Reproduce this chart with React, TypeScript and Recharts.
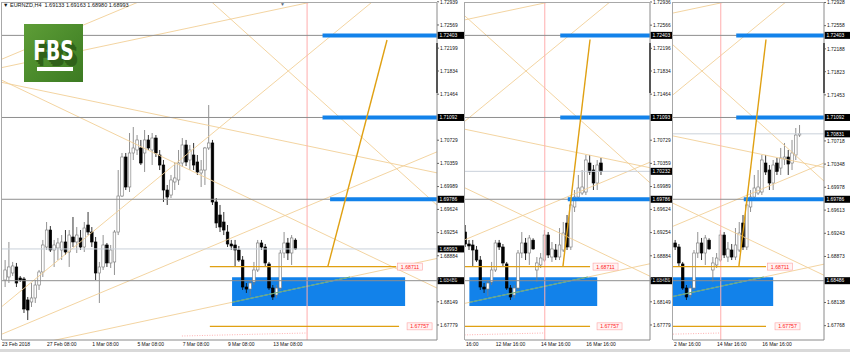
import React from 'react';
import { ComposedChart, Bar, XAxis, YAxis, ReferenceLine, ReferenceArea } from 'recharts';

const FONT = "'Liberation Sans', Arial, sans-serif";

// ---- EURNZD H4 candles (index 0 = first bar, 23 Feb 2018) ----
const opens = [
  1.68497, 1.68545, 1.68609, 1.68705, 1.68529, 1.68513, 1.68178, 1.68146, 1.6821, 1.68417,
  1.68625, 1.69024, 1.69295, 1.68976, 1.69008, 1.68976, 1.69104, 1.68944, 1.69184, 1.69104,
  1.69168, 1.69024, 1.69375, 1.69263, 1.69104, 1.68609, 1.68705, 1.69056, 1.68769, 1.68785,
  1.69263, 1.69838, 1.70461, 1.69982, 1.70525, 1.70573, 1.70605, 1.70525, 1.70733, 1.70573,
  1.70764, 1.70493, 1.70333, 1.69934, 1.69854, 1.70062, 1.70094, 1.70365, 1.70653, 1.70413,
  1.70493, 1.70381, 1.70206, 1.70253, 1.70605, 1.70685, 1.69743, 1.69535, 1.69423, 1.69263,
  1.69072, 1.69056, 1.68976, 1.68816, 1.68385, 1.68353, 1.68465, 1.68657, 1.69088, 1.69024,
  1.68753, 1.68369, 1.68258, 1.68369, 1.68928, 1.69088, 1.68928, 1.69133, 1.68657, 1.68737,
  1.68816, 1.69215, 1.68864, 1.68976, 1.68864, 1.68976, 1.69407, 1.69024, 1.69663, 1.69822,
  1.69886, 1.69902, 1.70365, 1.70253, 1.70046, 1.70365, 1.70285, 1.70429, 1.70461, 1.70365,
  1.70493, 1.70812,
];
const highs = [
  1.68816, 1.69104, 1.68785, 1.68769, 1.68561, 1.68545, 1.68226, 1.68449, 1.68497, 1.68657,
  1.69136, 1.69423, 1.69359, 1.69136, 1.69168, 1.69215, 1.69295, 1.69295, 1.69503, 1.69343,
  1.69295, 1.69423, 1.69583, 1.69343, 1.69184, 1.68785, 1.69215, 1.69088, 1.69056, 1.69295,
  1.70253, 1.70525, 1.70525, 1.70844, 1.7094, 1.70812, 1.70733, 1.70892, 1.70812, 1.70844,
  1.70812, 1.70573, 1.70413, 1.70014, 1.70174, 1.70381, 1.70573, 1.70764, 1.70733, 1.70653,
  1.70685, 1.70493, 1.70413, 1.70621, 1.71291, 1.70733, 1.69806, 1.69695, 1.69583, 1.69375,
  1.69136, 1.69136, 1.6904, 1.6888, 1.68449, 1.68497, 1.68785, 1.69136, 1.69136, 1.69072,
  1.68785, 1.68417, 1.68417, 1.68976, 1.69263, 1.69168, 1.69215, 1.69163, 1.68864, 1.68928,
  1.69295, 1.69263, 1.69104, 1.69072, 1.69327, 1.69423, 1.69535, 1.69775, 1.69934, 1.70174,
  1.70253, 1.70493, 1.70493, 1.70333, 1.70413, 1.70445, 1.70605, 1.70685, 1.70573, 1.70733,
  1.70924, 1.70972,
];
const lows = [
  1.68385, 1.68449, 1.68561, 1.68385, 1.68465, 1.6797, 1.67858, 1.68066, 1.6813, 1.68338,
  1.68545, 1.68976, 1.68944, 1.68705, 1.68816, 1.68816, 1.68896, 1.68705, 1.69024, 1.68928,
  1.68976, 1.68944, 1.69215, 1.69024, 1.68497, 1.6813, 1.68657, 1.68705, 1.68689, 1.68577,
  1.69215, 1.69822, 1.69934, 1.69902, 1.70413, 1.70493, 1.70333, 1.70222, 1.70573, 1.70333,
  1.70461, 1.70253, 1.69743, 1.69695, 1.69806, 1.69934, 1.70014, 1.70301, 1.70317, 1.70253,
  1.70253, 1.70174, 1.69982, 1.70014, 1.70573, 1.69695, 1.69327, 1.69263, 1.69215, 1.69024,
  1.68976, 1.68705, 1.68785, 1.68338, 1.6829, 1.68242, 1.68417, 1.68625, 1.68976, 1.68721,
  1.68338, 1.68178, 1.6821, 1.68338, 1.68848, 1.68816, 1.68737, 1.6898, 1.68465, 1.68689,
  1.68785, 1.68848, 1.68785, 1.68816, 1.68816, 1.68944, 1.68976, 1.68976, 1.69583, 1.69775,
  1.69854, 1.69854, 1.70174, 1.69934, 1.69934, 1.70174, 1.70174, 1.70333, 1.70174, 1.70253,
  1.70413, 1.7078,
];
const closes = [
  1.68657, 1.68705, 1.68721, 1.68449, 1.68497, 1.68034, 1.68018, 1.6821, 1.68417, 1.68625,
  1.69056, 1.69295, 1.68976, 1.69056, 1.69088, 1.69104, 1.68944, 1.69215, 1.69104, 1.69215,
  1.69024, 1.69327, 1.69263, 1.69104, 1.68609, 1.68705, 1.69056, 1.68769, 1.68976, 1.69263,
  1.69838, 1.70461, 1.69982, 1.70525, 1.70605, 1.70733, 1.70365, 1.70733, 1.70605, 1.70764,
  1.70525, 1.70333, 1.69934, 1.69822, 1.70094, 1.70126, 1.70365, 1.70653, 1.70381, 1.70573,
  1.70333, 1.70222, 1.70253, 1.70605, 1.70685, 1.69743, 1.69407, 1.69343, 1.69295, 1.69072,
  1.6904, 1.68976, 1.68816, 1.68385, 1.68353, 1.68449, 1.68657, 1.69088, 1.69024, 1.68769,
  1.68369, 1.68226, 1.68369, 1.68928, 1.69088, 1.68928, 1.69168, 1.68993, 1.68769, 1.68848,
  1.69215, 1.68896, 1.68992, 1.68864, 1.69056, 1.69247, 1.69024, 1.69695, 1.69822, 1.69966,
  1.69982, 1.70413, 1.70222, 1.70046, 1.70333, 1.70232, 1.70445, 1.70461, 1.70349, 1.70525,
  1.70812, 1.70831,
];

// ---- price axis ----
const priceMin = 1.67539;
const priceMax = 1.7292;
const yTicks1 = ['1.72939', '1.72569', '1.72199', '1.71834', '1.71464', '1.70729', '1.70359', '1.69989', '1.69624', '1.69254', '1.68884', '1.68514', '1.68149', '1.67779'];
const yTicks2 = ['1.72936', '1.72566', '1.72196', '1.71834', '1.71464', '1.70729', '1.70359', '1.69989', '1.69624', '1.69254', '1.68884', '1.68514', '1.68149', '1.67779'];
const yTicks3 = ['1.72928', '1.72558', '1.72188', '1.71823', '1.71453', '1.70718', '1.70348', '1.69978', '1.69613', '1.69243', '1.68873', '1.68138', '1.67768'];

// ---- time axis (bar index positions & labels) ----
const xTickIdx1 = [-0.93, 11, 23, 35, 47, 59, 71];
const xTickLbl1 = ['23 Feb 2018', '27 Feb 08:00', '1 Mar 08:00', '5 Mar 08:00', '7 Mar 08:00', '9 Mar 08:00', '13 Mar 08:00'];
const xTickIdx2 = [59.1, 67, 79, 91];
const xTickLbl2 = ['16:00', '12 Mar 16:00', '14 Mar 16:00', '16 Mar 16:00'];
const xTickIdx3 = [67.6, 79, 91];
const xTickLbl3 = ['2 Mar 16:00', '14 Mar 16:00', '16 Mar 16:00'];

// ---- objects ----
const levelPrices = [1.72403, 1.71092, 1.69786, 1.68486];
const levelTags1 = ['1.72403', '1.71092', '1.69786', '1.68486'];
const levelTags2 = ['1.72403', '1.71093', '1.69786', '1.68486'];
const levelTags3 = ['1.72403', '1.71092', '1.69786', '1.68486'];
const bidPrices = [1.68993, 1.70232, 1.70831];
const bidTags = ['1.68993', '1.70232', '1.70831'];

const targetPrices = [1.72403, 1.71092, 1.69786];
const targetStartIdx = [84.1, 84.1, 86.1];

const zoneTop = 1.6854;
const zoneBottom = 1.6808;
const zoneStartIdx = [60.1, 60, 60];
const zoneEndIdx = [106, 93.9, 93.9];

const stopPrices = [1.68711, 1.67757];
const stopLabels = ['1.68711', '1.67757'];
const stopStartIdx = 54.2;
const stopEndIdx1 = [103.6, 104.4];
const stopEndIdx23 = [92, 92];

const pathStartIdx = [85.5, 84.8, 84.8];
const pathEndIdx = [101.2, 92, 92];
const pathStartPrice = 1.68711;
const pathEndPrice = [1.72329, 1.72337, 1.72337];

const fanX1 = [-1.5, -1.5, -1.5, -1.5, -1.5, -1.5, -1.5, 50];
const fanY1 = [1.71882, 1.7201, 1.71659, 1.71702, 1.68047, 1.67619, 1.67348, 1.73191];
const fanX2 = [120, 60, 115, 115, 100, 115, 115, 115];
const fanY2 = [1.73431, 1.73559, 1.70201, 1.68353, 1.73072, 1.70557, 1.68848, 1.69663];

const greenX = [60.1, 91.4];
const greenY = [1.68141, 1.68545];
const dotX = [46.8, 80];
const dotY = [1.67603, 1.67651];
const nowLineIdx = 80;

const candles = opens.map((o, i) => ({ i, o, h: highs[i], l: lows[i], c: closes[i], range: [lows[i], highs[i]] }));

const Candle = (props: any) => {
  const { x, y, width, height, payload } = props;
  if (x == null || y == null || !payload) return null;
  const { o, h, l, c } = payload;
  const yTop = height < 0 ? y + height : y;
  const hh = Math.abs(height);
  const span = h - l || 1e-9;
  const py = (v: number) => yTop + ((h - v) / span) * hh;
  const cx = x + width / 2;
  const up = c >= o;
  const t = py(Math.max(o, c));
  const b = py(Math.min(o, c));
  const bh = Math.max(b - t, 0.8);
  const col = up ? '#7e7e7e' : '#111';
  return (
    <g>
      <line x1={cx} x2={cx} y1={yTop} y2={yTop + hh} stroke={col} strokeWidth={0.85} />
      <rect x={cx - 1.3} y={t} width={2.6} height={bh} fill={up ? '#ffffff' : '#000000'} stroke={up ? '#7e7e7e' : '#000'} strokeWidth={0.65} />
    </g>
  );
};

const makeXTick = (idx: number[], lbl: string[]) => (props: any) => {
  const { x, y, payload } = props;
  const k = idx.findIndex((v) => Math.abs(v - payload.value) < 1e-6);
  return (
    <text x={x} y={y + 6.4} fontSize={5} fontFamily={FONT} fill="#111" textAnchor="start">
      {k >= 0 ? lbl[k] : ''}
    </text>
  );
};

const makeYTick = (labels: string[]) => (props: any) => {
  const { x, y, payload } = props;
  const s = labels.find((t) => Math.abs(Number(t) - payload.value) < 1e-7) ?? '';
  return (
    <text x={x} y={y + 1.8} fontSize={4.9} fontFamily={FONT} fill="#111" textAnchor="start">
      {s}
    </text>
  );
};

const tagLabel = (text: string, w: number) => (props: any) => {
  const vb = props.viewBox;
  if (!vb) return null;
  const x = vb.x + vb.width + 0.5;
  const y = vb.y;
  return (
    <g>
      <rect x={x} y={y - 3.5} width={w} height={7} fill="#000" />
      <text x={x + 2} y={y + 1.8} fontSize={4.9} fontFamily={FONT} fill="#fff">{text}</text>
    </g>
  );
};

const flagLabel = (text: string, gap: number) => (props: any) => {
  const vb = props.viewBox;
  if (!vb) return null;
  const x = vb.x + vb.width + gap;
  const y = vb.y;
  return (
    <g>
      <rect x={x} y={y - 3.5} width={25} height={7} fill="#fff3f3" stroke="#ffa3a3" strokeWidth={0.6} />
      <text x={x + 12.5} y={y + 1.9} fontSize={5.2} fontFamily={FONT} fill="#ff2020" textAnchor="middle">{text}</text>
    </g>
  );
};

type PanelCfg = {
  key: number;
  left: number;
  width: number;
  marginLeft: number;
  axisW: number;
  first: number;
  last: number;
  d0: number;
  d1: number;
  xIdx: number[];
  xLbl: string[];
  yTicks: string[];
  levelTags: string[];
  tagW: number;
  stopEnd: number[];
  flagGaps: number[];
};

const panels: PanelCfg[] = [
  { key: 0, left: 0, width: 466, marginLeft: 2, axisW: 29, first: 0, last: 77, d0: -0.93, d1: 114.46, xIdx: xTickIdx1, xLbl: xTickLbl1, yTicks: yTicks1, levelTags: levelTags1, tagW: 27, stopEnd: stopEndIdx1, flagGaps: [1.5, 8] },
  { key: 1, left: 465, width: 208, marginLeft: 0, axisW: 23, first: 59, last: 95, d0: 58.84, d1: 107.9, xIdx: xTickIdx2, xLbl: xTickLbl2, yTicks: yTicks2, levelTags: levelTags2, tagW: 22, stopEnd: stopEndIdx23, flagGaps: [3, 7] },
  { key: 2, left: 673, width: 177, marginLeft: 0, axisW: 26, first: 68, last: 101, d0: 67.33, d1: 107.38, xIdx: xTickIdx3, xLbl: xTickLbl3, yTicks: yTicks3, levelTags: levelTags3, tagW: 26, stopEnd: stopEndIdx23, flagGaps: [1.5, 9] },
];

const FAN = '#f2cf96';
const LEVEL = '#8e8e8e';
const BLUE = '#1282ea';
const ORANGE = '#e0a012';

function Panel({ p }: { p: PanelCfg }) {
  const data = candles.slice(p.first, p.last + 1);
  const k = p.key;
  const plotRight = p.width - p.axisW;
  return (
    <div style={{ position: 'absolute', left: p.left, top: 0, width: p.width, height: 352 }}>
      <ComposedChart width={p.width} height={352} data={data} margin={{ top: 3, right: 0, bottom: 0, left: p.marginLeft }}>
        <XAxis
          type="number"
          dataKey="i"
          domain={[p.d0, p.d1]}
          allowDataOverflow
          ticks={p.xIdx}
          interval={0}
          tickSize={0}
          tickMargin={0}
          height={12}
          axisLine={{ stroke: '#8a8a8a' }}
          tickLine={false}
          tick={makeXTick(p.xIdx, p.xLbl)}
        />
        <YAxis
          orientation="right"
          type="number"
          domain={[priceMin, priceMax]}
          allowDataOverflow
          ticks={p.yTicks.map(Number)}
          interval={0}
          width={p.axisW}
          tickSize={2}
          tickMargin={1}
          axisLine={{ stroke: '#8a8a8a' }}
          tickLine={{ stroke: '#666' }}
          tick={makeYTick(p.yTicks)}
        />
        <ReferenceArea
          x1={zoneStartIdx[k]}
          x2={zoneEndIdx[k]}
          y1={zoneBottom}
          y2={zoneTop}
          fill={BLUE}
          fillOpacity={1}
          stroke="none"
          ifOverflow="hidden"
        />
        {fanX1.map((x1, j) => (
          <ReferenceLine
            key={'fan' + j}
            segment={[{ x: x1, y: fanY1[j] }, { x: fanX2[j], y: fanY2[j] }]}
            stroke={FAN}
            strokeWidth={0.9}
            ifOverflow="hidden"
          />
        ))}
        <ReferenceLine
          segment={[{ x: greenX[0], y: greenY[0] }, { x: greenX[1], y: greenY[1] }]}
          stroke="#48a27a"
          strokeWidth={0.9}
          ifOverflow="hidden"
        />
        <ReferenceLine
          segment={[{ x: dotX[0], y: dotY[0] }, { x: dotX[1], y: dotY[1] }]}
          stroke="#ff9c9c"
          strokeWidth={0.8}
          strokeDasharray="1 1.5"
          ifOverflow="hidden"
        />
        <ReferenceLine x={nowLineIdx} stroke="#ffadad" strokeWidth={1} ifOverflow="hidden" />
        <ReferenceLine y={bidPrices[k]} stroke="#c9d1da" strokeWidth={1} label={tagLabel(bidTags[k], p.tagW)} />
        {levelPrices.map((v, j) => (
          <ReferenceLine key={'lv' + j} y={v} stroke={LEVEL} strokeWidth={1} label={tagLabel(p.levelTags[j], p.tagW)} />
        ))}
        {targetPrices.map((v, j) => (
          <ReferenceLine
            key={'tg' + j}
            segment={[{ x: targetStartIdx[j], y: v }, { x: 140, y: v }]}
            stroke={BLUE}
            strokeWidth={4}
            ifOverflow="hidden"
          />
        ))}
        {stopPrices.map((v, j) => (
          <ReferenceLine
            key={'st' + j}
            segment={[{ x: stopStartIdx, y: v }, { x: p.stopEnd[j], y: v }]}
            stroke={ORANGE}
            strokeWidth={1.3}
            ifOverflow="hidden"
            label={flagLabel(stopLabels[j], p.flagGaps[j])}
          />
        ))}
        <ReferenceLine
          segment={[{ x: pathStartIdx[k], y: pathStartPrice }, { x: pathEndIdx[k], y: pathEndPrice[k] }]}
          stroke={ORANGE}
          strokeWidth={1.4}
          ifOverflow="hidden"
        />
        <Bar dataKey="range" shape={Candle} isAnimationActive={false} barSize={3} />
      </ComposedChart>
      <div
        style={{
          position: 'absolute',
          left: p.marginLeft - 1,
          top: 2,
          width: plotRight - p.marginLeft + 1,
          height: 338,
          borderLeft: '1px solid #a8a8a8',
          borderTop: '1px solid #a8a8a8',
          pointerEvents: 'none',
          boxSizing: 'border-box',
        }}
      />
      <div style={{ position: 'absolute', left: plotRight - 1, top: 43, width: 1.5, height: 50, background: '#555' }} />
    </div>
  );
}

export default function App() {
  return (
    <div style={{ position: 'absolute', left: 0, top: 0, width: 850, height: 352, background: '#fff', overflow: 'hidden', fontFamily: FONT }}>
      {panels.map((p) => (
        <Panel key={p.key} p={p} />
      ))}
      <div style={{ position: 'absolute', left: 3, top: 1, fontSize: 5.5, lineHeight: '8px', color: '#111', whiteSpace: 'nowrap' }}>
        ▼ EURNZD,H4&nbsp; 1.69133 1.69163 1.68980 1.68993
      </div>
      <div style={{ position: 'absolute', left: 280, top: 2, fontSize: 5, lineHeight: '5px', color: '#5d6d80' }}>▼</div>
      <div
        style={{
          position: 'absolute',
          left: 24,
          top: 24,
          width: 59,
          height: 58,
          background: 'linear-gradient(135deg, #5e9d37 0%, #4a8a2b 55%, #3c7a22 100%)',
          overflow: 'hidden',
        }}
      >
        <div
          style={{
            position: 'absolute',
            left: 0,
            top: 13,
            width: 59,
            textAlign: 'center',
            color: '#fff',
            fontFamily: "'DejaVu Sans Condensed', 'DejaVu Sans', sans-serif",
            fontWeight: 700,
            fontSize: 26,
            lineHeight: '28px',
            transform: 'scaleX(0.8)',
            textShadow: '2px 2px 0 #2f6119, 4px 4px 0 #2f6119, 6px 6px 0 #2f6119',
          }}
        >
          FBS
        </div>
        <div style={{ position: 'absolute', left: 13, top: 43, width: 36, height: 3.5, background: '#fff' }} />
      </div>
      <div style={{ position: 'absolute', left: 0, top: 349, width: 850, height: 3, background: '#d9d9d9' }} />
    </div>
  );
}
